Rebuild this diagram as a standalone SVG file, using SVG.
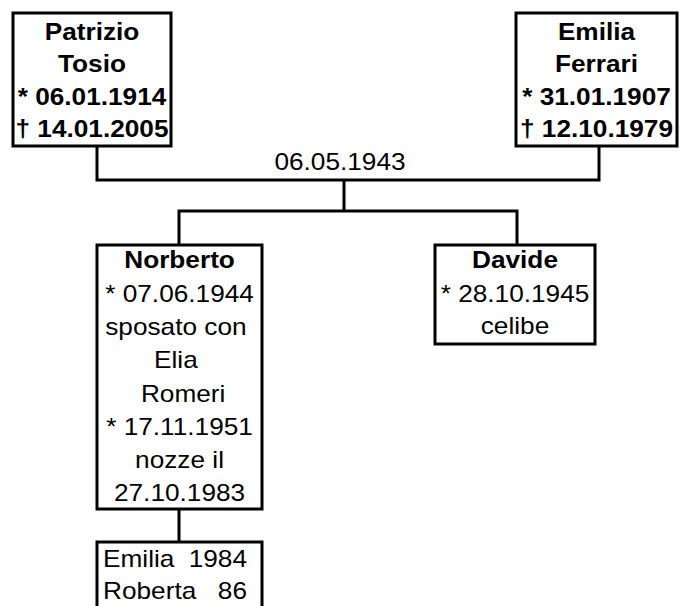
<svg xmlns="http://www.w3.org/2000/svg" width="680" height="606" viewBox="0 0 680 606">
  <style>
    .box { fill: #fff; stroke: #000; stroke-width: 3; }
    .link { fill: none; stroke: #000; stroke-width: 3; }
    text { font-family: "Liberation Sans", Arial, sans-serif; font-size: 23px; fill: #000; white-space: pre; }
    .c { text-anchor: middle; }
    .e { text-anchor: end; }
    .b { font-weight: bold; }
  </style>
  <rect width="680" height="606" fill="#fff"/>

  <!-- connectors -->
  <g id="connectors">
    <polyline class="link" points="97,146 97,180 599,180 599,146"/>
    <line class="link" x1="344" y1="180" x2="344" y2="211"/>
    <polyline class="link" points="179,245 179,211 517,211 517,245"/>
    <line class="link" x1="179" y1="509" x2="179" y2="542"/>
    <text class="c" x="298.25" y="170" transform="scale(1.14 1)">06.05.1943</text>
  </g>

  <!-- parents -->
  <g id="patrizio">
    <rect class="box" x="13" y="13" width="158" height="133"/>
    <g class="b c" transform="scale(1.14 1)">
      <text class="b c" x="80.7" y="40">Patrizio</text>
      <text class="b c" x="80.7" y="72">Tosio</text>
      <text class="b c" x="80.7" y="105">* 06.01.1914</text>
      <text class="b c" x="80.7" y="137">† 14.01.2005</text>
    </g>
  </g>

  <g id="emilia">
    <rect class="box" x="516" y="13" width="161" height="133"/>
    <g transform="scale(1.14 1)">
      <text class="b c" x="523.25" y="40">Emilia</text>
      <text class="b c" x="523.25" y="72">Ferrari</text>
      <text class="b c" x="523.25" y="105">* 31.01.1907</text>
      <text class="b c" x="523.25" y="137">† 12.10.1979</text>
    </g>
  </g>

  <!-- children -->
  <g id="norberto">
    <rect class="box" x="97" y="245" width="165" height="264"/>
    <g transform="scale(1.14 1)">
      <text class="b c" x="157.5" y="268">Norberto</text>
      <text class="c" x="157.5" y="302">* 07.06.1944</text>
      <text class="c" x="157.5" y="335" xml:space="preserve">sposato con </text>
      <text class="c" x="157.5" y="368" xml:space="preserve">Elia </text>
      <text class="c" x="157.5" y="402" xml:space="preserve"> Romeri</text>
      <text class="c" x="157.5" y="435">* 17.11.1951</text>
      <text class="c" x="157.5" y="468">nozze il</text>
      <text class="c" x="157.5" y="501">27.10.1983</text>
    </g>
  </g>

  <g id="davide">
    <rect class="box" x="435" y="245" width="160" height="99"/>
    <g transform="scale(1.14 1)">
      <text class="b c" x="451.75" y="268">Davide</text>
      <text class="c" x="451.75" y="302">* 28.10.1945</text>
      <text class="c" x="451.75" y="334">celibe</text>
    </g>
  </g>

  <!-- grandchildren -->
  <g id="nipoti">
    <rect class="box" x="97" y="542" width="165" height="80"/>
    <g transform="scale(1.14 1)">
      <text x="90.35" y="567">Emilia</text>
      <text class="e" x="216.7" y="567">1984</text>
      <text x="90.35" y="599">Roberta</text>
      <text class="e" x="216.7" y="599">86</text>
    </g>
  </g>
</svg>
